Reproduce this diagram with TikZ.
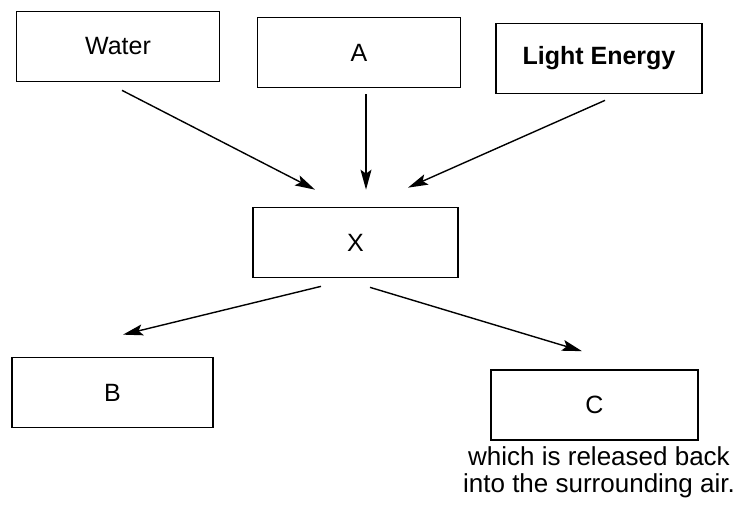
\documentclass[tikz,border=0pt]{standalone}
\usepackage{fontspec}
\setmainfont{Liberation Sans}
\usetikzlibrary{arrows.meta}
\begin{document}
\begin{tikzpicture}[x=1pt,y=-1pt,
  box/.style={draw,line width=1.7pt,minimum width=#1,minimum height=70pt,inner sep=0pt,font=\fontsize{25}{29}\selectfont},
  box/.default=203pt,
  arr/.style={line width=1.4pt,-{Stealth[length=20pt,width=11pt,inset=4pt]}}]
\useasboundingbox (0,0) rectangle (738,507);
\node[box] (water) at (118,46.5) {Water};
\node[box] (a) at (359,52.5) {A};
\node[box=206pt,font=\fontsize{25}{29}\selectfont\bfseries] (light) at (599,58.5) {Light Energy};
\node[box=205pt] (x) at (355.5,242.5) {X};
\node[box=201pt] (b) at (112.5,392.5) {B};
\node[box=207pt] (c) at (594.5,405) {C};
\node[align=center,inner sep=0pt,font=\fontsize{26}{27}\selectfont,anchor=north] (cap) at ([shift={(4.5,6)}]c.south) {which is released back\\into the surrounding air.};
\draw[arr] ([shift={(4,8)}]water.south) -- ([shift={(-40.5,-17)}]x.north);
\draw[arr] ([shift={(7,6)}]a.south) -- ([shift={(10.5,-17)}]x.north);
\draw[arr] ([shift={(6,6)}]light.south) -- ([shift={(52.5,-19)}]x.north);
\draw[arr] ([shift={(-34.5,8)}]x.south) -- ([shift={(10.5,-22)}]b.north);
\draw[arr] ([shift={(14.5,9)}]x.south) -- ([shift={(-12.5,-18)}]c.north);
\end{tikzpicture}
\end{document}
